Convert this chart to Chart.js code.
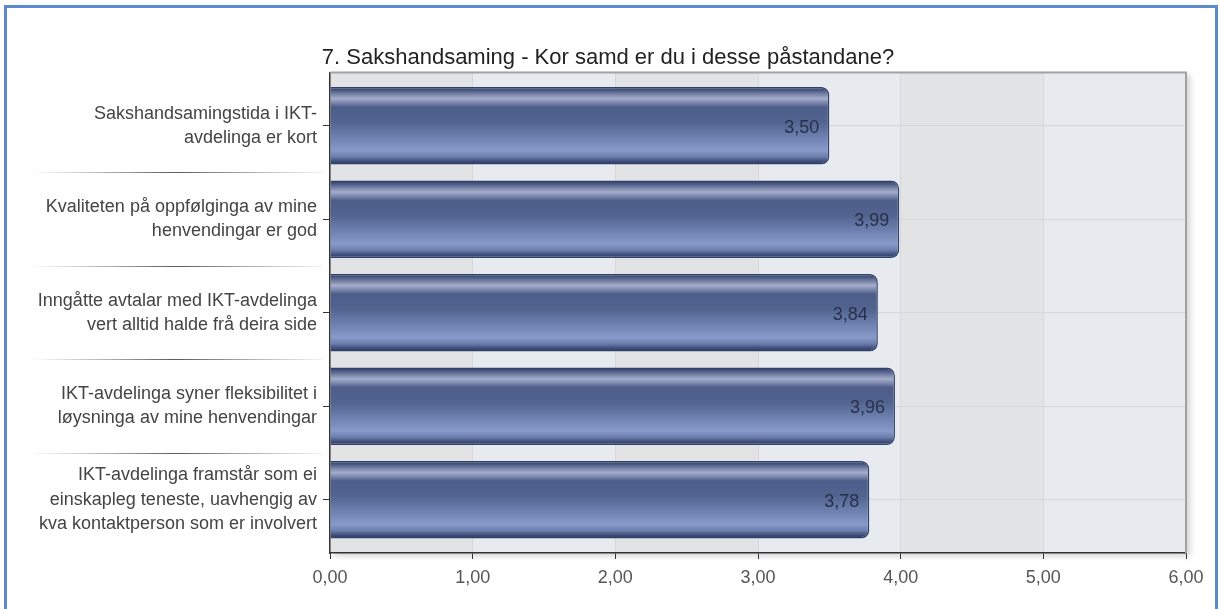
<!DOCTYPE html>
<html>
<head>
<meta charset="utf-8">
<script src="https://cdn.jsdelivr.net/npm/chart.js@4"></script>
<style>
  html, body { margin: 0; padding: 0; background: #fff; }
  #wrap { position: relative; width: 1220px; height: 609px; overflow: hidden; }
  #frame { position: absolute; left: 4px; top: 5px; width: 1214px; height: 700px; border: 3px solid #5b8cc9; box-sizing: border-box; }
  canvas { position: absolute; left: 0; top: 0; }
</style>
</head>
<body>
<div id="wrap">
  <div id="frame"></div>
  <canvas id="chart" width="1220" height="609"></canvas>
</div>
<script>
var categories = [
    ['Sakshandsamingstida i IKT-', 'avdelinga er kort'],
    ['Kvaliteten på oppfølginga av mine', 'henvendingar er god'],
    ['Inngåtte avtalar med IKT-avdelinga', 'vert alltid halde frå deira side'],
    ['IKT-avdelinga syner fleksibilitet i', 'løysninga av mine henvendingar'],
    ['IKT-avdelinga framstår som ei', 'einskapleg teneste, uavhengig av', 'kva kontaktperson som er involvert']
];
var values = [3.50, 3.99, 3.84, 3.96, 3.78];
var xTicks = [0, 1, 2, 3, 4, 5, 6];
var title = '7. Sakshandsaming - Kor samd er du i desse påstandane?';

var FONT = "'Liberation Sans', Arial, sans-serif";
var PAD = 0.07; // extra space above first / below last category

function fmt(v) {
    return v.toFixed(2).replace('.', ',');
}

function barGradient(ctx) {
    var chart = ctx.chart;
    if (!chart.chartArea) return '#5a6b98';
    var y = chart.scales.y;
    var c = y.getPixelForValue(ctx.dataIndex);
    var h = Math.abs(y.getPixelForValue(1) - y.getPixelForValue(0)) * 0.83;
    var g = chart.ctx.createLinearGradient(0, c - h / 2, 0, c + h / 2);
    g.addColorStop(0.00, '#2c3a60');
    g.addColorStop(0.04, '#46557f');
    g.addColorStop(0.10, '#7c87aa');
    g.addColorStop(0.15, '#a4adc9');
    g.addColorStop(0.20, '#7e8ab0');
    g.addColorStop(0.26, '#4e5e8a');
    g.addColorStop(0.45, '#52638f');
    g.addColorStop(0.70, '#7588b8');
    g.addColorStop(0.82, '#889aca');
    g.addColorStop(0.90, '#6b7dab');
    g.addColorStop(0.96, '#3d4c78');
    g.addColorStop(1.00, '#2c3a60');
    return g;
}

var plotDecor = {
    id: 'plotDecor',
    beforeDraw: function (chart) {
        var ctx = chart.ctx, a = chart.chartArea, x = chart.scales.x, y = chart.scales.y;
        ctx.save();
        // drop shadow + base
        ctx.shadowColor = 'rgba(0,0,0,0.18)';
        ctx.shadowBlur = 6;
        ctx.shadowOffsetX = 4;
        ctx.shadowOffsetY = 3;
        ctx.fillStyle = '#e7eaee';
        ctx.fillRect(a.left, a.top, a.right - a.left, a.bottom - a.top);
        ctx.restore();
        ctx.save();
        for (var i = 0; i < xTicks.length - 1; i++) {
            ctx.fillStyle = (i % 2 === 0) ? '#e2e3e5' : '#e7eaee';
            var x0 = x.getPixelForValue(xTicks[i]), x1 = x.getPixelForValue(xTicks[i + 1]);
            ctx.fillRect(x0, a.top, x1 - x0, a.bottom - a.top);
        }
        // separators between the category labels
        for (var j = 0; j < categories.length - 1; j++) {
            var yy = Math.round((y.getPixelForValue(j) + y.getPixelForValue(j + 1)) / 2) + 0.5;
            var lg = ctx.createLinearGradient(30, 0, 322, 0);
            lg.addColorStop(0, 'rgba(120,120,120,0)');
            lg.addColorStop(0.5, 'rgba(90,90,90,1)');
            lg.addColorStop(1, 'rgba(120,120,120,0.1)');
            ctx.strokeStyle = lg;
            ctx.lineWidth = 1;
            ctx.beginPath();
            ctx.moveTo(30, yy);
            ctx.lineTo(322, yy);
            ctx.stroke();
        }
        ctx.restore();
    },
    afterDraw: function (chart) {
        var ctx = chart.ctx, a = chart.chartArea;
        ctx.save();
        ctx.strokeStyle = '#a3a3a3';
        ctx.lineWidth = 2;
        ctx.beginPath();
        ctx.moveTo(a.left, a.top);
        ctx.lineTo(a.right, a.top);
        ctx.lineTo(a.right, a.bottom);
        ctx.stroke();
        // value labels inside the bar ends
        var meta = chart.getDatasetMeta(0);
        ctx.font = '18px ' + FONT;
        ctx.fillStyle = '#27304a';
        ctx.textAlign = 'right';
        ctx.textBaseline = 'middle';
        meta.data.forEach(function (bar, i) {
            ctx.fillText(fmt(values[i]), bar.x - 10, bar.y + 2);
        });
        ctx.restore();
    }
};

new Chart(document.getElementById('chart'), {
    type: 'bar',
    data: {
        labels: categories,
        datasets: [{
            data: values,
            backgroundColor: barGradient,
            borderColor: '#30406a',
            borderWidth: 1.5,
            borderSkipped: 'start',
            borderRadius: { topRight: 8, bottomRight: 8, topLeft: 0, bottomLeft: 0 },
            categoryPercentage: 0.83,
            barPercentage: 1
        }]
    },
    options: {
        indexAxis: 'y',
        responsive: false,
        animation: false,
        layout: { padding: { left: 30, right: 34, top: 40, bottom: 16 } },
        plugins: {
            legend: { display: false },
            tooltip: { enabled: false },
            title: {
                display: true,
                text: title,
                color: '#222',
                font: { family: FONT, size: 22, weight: 'normal' },
                padding: { top: 5, bottom: 1 }
            }
        },
        scales: {
            x: {
                min: 0,
                max: 6,
                afterBuildTicks: function (s) {
                    s.ticks = xTicks.map(function (v) { return { value: v }; });
                },
                afterFit: function (s) { s.height = 40; },
                grid: { color: '#d6d7d9', tickColor: '#333', tickLength: 6, drawOnChartArea: true },
                border: { color: '#333', width: 1.5 },
                ticks: {
                    color: '#555',
                    padding: 8,
                    font: { family: FONT, size: 18 },
                    callback: function (v) { return fmt(v); }
                }
            },
            y: {
                offset: true,
                afterBuildTicks: function (s) {
                    s._startValue = -0.5 - PAD;
                    s._valueRange = categories.length + 2 * PAD;
                },
                afterFit: function (s) { s.width = 300; },
                grid: { color: '#d6d7d9', tickColor: '#333', tickLength: 7, offset: false },
                border: { color: '#333', width: 1.5 },
                ticks: {
                    color: '#444',
                    padding: 6,
                    font: { family: FONT, size: 18, lineHeight: 1.35 }
                }
            }
        }
    },
    plugins: [plotDecor]
});
</script>
</body>
</html>
